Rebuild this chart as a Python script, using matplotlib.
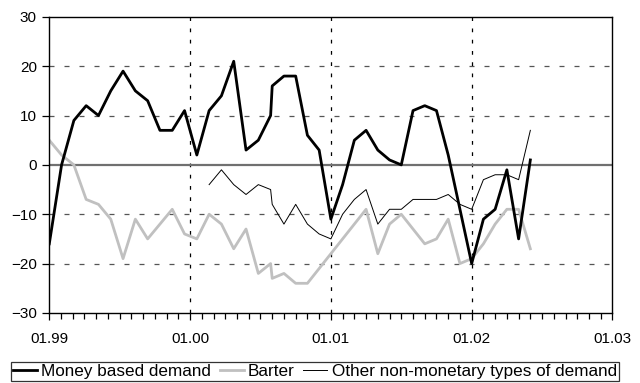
import numpy as np
import matplotlib

matplotlib.use("Agg")
import matplotlib.pyplot as plt
from matplotlib.ticker import MultipleLocator

plt.rcParams["font.family"] = ["Liberation Sans", "DejaVu Sans"]

# survey balances, first block sampled slightly wider than monthly (in months from 01.99)
t_early = np.arange(19) * 1.048
t_late = np.arange(19, 42)

money_early = [-16, 0, 9, 12, 10, 15, 19, 15, 13, 7, 7, 11, 2, 11, 14, 21, 3, 5, 10]
money_late = [16, 18, 18, 6, 3, -11, -4, 5, 7, 3, 1, 0, 11, 12, 11, 2, -9, -20, -11, -9, -1, -15, 1]

barter_early = [5, 2, 0, -7, -8, -11, -19, -11, -15, -12, -9, -14, -15, -10, -12, -17, -13, -22, -20]
barter_late = [-23, -22, -24, -24, -21, -18, -15, -12, -9, -18, -12, -10, -13, -16, -15, -11, -20, -19,
               -16, -12, -9, -9, -17]

# other types start in Feb 2000 (index 13 of the early block)
other_start = 13
other_early = [-4, -1, -4, -6, -4, -5]
other_late = [-8, -12, -8, -12, -14, -15, -10, -7, -5, -12, -9, -9, -7, -7, -7, -6, -8, -9, -3, -2,
              -2, -3, 7]

year_labels = ["01.99", "01.00", "01.01", "01.02", "01.03"]

t_all = np.concatenate([t_early, t_late])
money = money_early + money_late
barter = barter_early + barter_late
t_other = np.concatenate([t_early[other_start:], t_late])
other = other_early + other_late

fig = plt.figure(figsize=(6.4, 3.83), dpi=100)
ax = fig.add_axes([0.077, 0.183, 0.880, 0.773])

for y in (-20, -10, 10, 20):
    ax.axhline(y, color="#555555", lw=0.9, ls=(0, (4, 8)), zorder=1)
for x in (12, 24, 36):
    ax.axvline(x, color="black", lw=0.9, ls=(0, (3, 6)), zorder=1)
ax.axhline(0, color="#707070", lw=1.6, zorder=1)

ax.plot(t_all, barter, color="#c0c0c0", lw=2.0, label="Barter", zorder=2)
ax.plot(t_other, other, color="black", lw=0.7,
        label="Other non-monetary types of demand", zorder=3)
ax.plot(t_all, money, color="black", lw=2.0, label="Money based demand", zorder=4)

ax.set_xlim(0, 48)
ax.set_ylim(-30, 30)
ax.set_xticks([0, 12, 24, 36, 48])
ax.set_xticklabels(year_labels)
ax.xaxis.set_minor_locator(MultipleLocator(1))
ax.set_yticks(range(-30, 31, 10))
ax.tick_params(axis="both", which="major", direction="out", length=5, width=0.9,
               labelsize=11, colors="black")
ax.tick_params(axis="x", which="minor", direction="out", length=4, width=0.9)
ax.tick_params(axis="x", pad=9)
ax.tick_params(axis="y", pad=4)
for s in ax.spines.values():
    s.set_color("black")
    s.set_linewidth(1.0)

handles, labels = ax.get_legend_handles_labels()
order = [2, 0, 1]
leg = fig.legend([handles[i] for i in order], [labels[i] for i in order],
                 loc="lower center", bbox_to_anchor=(0.492, 0.0), ncol=3, fontsize=12.3,
                 frameon=True, fancybox=False, edgecolor="black", handlelength=1.4,
                 handletextpad=0.25, columnspacing=0.5, borderpad=0.12, borderaxespad=0.1)
leg.get_frame().set_linewidth(0.9)

fig.savefig("out.png", dpi=100)
